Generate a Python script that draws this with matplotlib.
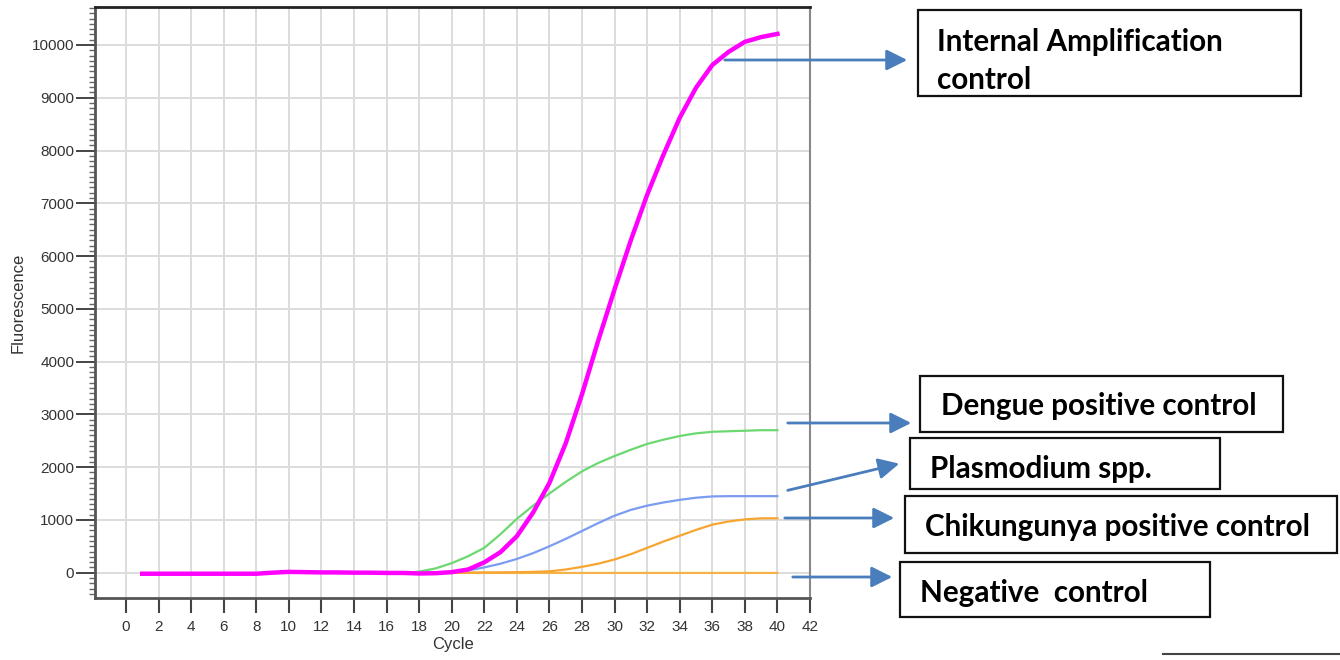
import matplotlib
matplotlib.use('Agg')
import matplotlib.pyplot as plt
from matplotlib.patches import Rectangle, FancyArrowPatch
from matplotlib.lines import Line2D
from matplotlib.ticker import MultipleLocator

W, H = 1340, 660

cycles = list(range(1, 41))
baseline = [-20, -20, -20, -20, -20, -20, -20, -20, 0, 15, 10, 5, 5, 0, 0, -5, -5]

iac = baseline + [-15, -10, 10, 60, 195, 390, 690, 1140, 1700, 2450, 3380, 4400, 5370,
                  6300, 7160, 7920, 8620, 9190, 9620, 9870, 10060, 10150, 10210]
dengue = baseline + [20, 80, 180, 310, 470, 730, 1020, 1270, 1500, 1720, 1920, 2080, 2210,
                     2330, 2440, 2520, 2590, 2640, 2670, 2680, 2690, 2700, 2700]
plasmodium = baseline + [-5, -5, 5, 40, 100, 170, 260, 370, 500, 640, 790, 940, 1080,
                         1190, 1270, 1330, 1380, 1420, 1445, 1450, 1450, 1450, 1450]
chik = baseline + [-5, -5, 0, 0, 5, 5, 10, 15, 25, 60, 110, 170, 250,
                   350, 470, 590, 700, 810, 910, 970, 1010, 1030, 1030]
negative = baseline + [-5] * 23

x_ticks = list(range(0, 43, 2))
y_ticks = list(range(0, 10001, 1000))

labels = ['Internal Amplification\ncontrol', 'Dengue positive control', 'Plasmodium spp.',
          'Chikungunya positive control', 'Negative  control']


def px(x, y):
    return x / W, 1 - y / H


fig = plt.figure(figsize=(13.4, 6.6), dpi=100)
ax = fig.add_axes([95 / W, 1 - 598 / H, 715 / W, 591 / H])

ax.plot(cycles, negative, color='#f5b24a', lw=1.6, zorder=3)
ax.plot(cycles, chik, color='#f7a531', lw=1.6, zorder=3)
ax.plot(cycles, plasmodium, color='#7b9cf0', lw=1.6, zorder=3)
ax.plot(cycles, dengue, color='#6cd870', lw=1.6, zorder=3)
ax.plot(cycles, iac, color='#ff00ff', lw=3.2, zorder=4)

ax.set_xlim(-1.9, 42)
ax.set_ylim(-480, 10720)
ax.set_xticks(x_ticks)
ax.set_yticks(y_ticks)
ax.yaxis.set_minor_locator(MultipleLocator(100))
ax.grid(True, color='#dcdcdc', lw=1.4, zorder=0)
ax.tick_params(axis='x', direction='out', length=11, width=1.5, pad=5, color='#444',
               labelsize=11, labelcolor='#333')
ax.tick_params(axis='y', which='major', direction='out', length=14, width=1.4, pad=1,
               color='#444', labelsize=11, labelcolor='#333')
ax.tick_params(axis='y', which='minor', direction='out', length=4, width=1.0, color='#666')
for s in ['left', 'bottom']:
    ax.spines[s].set_color('#555')
    ax.spines[s].set_linewidth(2)
ax.spines['top'].set_color('#222')
ax.spines['top'].set_linewidth(2)
ax.spines['right'].set_color('#888')
ax.spines['right'].set_linewidth(1.5)
ax.set_xlabel('Cycle', fontsize=12, color='#333', labelpad=2)
ax.set_ylabel('Fluorescence', fontsize=12, color='#333', labelpad=4)
for t in ax.get_xticklabels() + ax.get_yticklabels():
    t.set_family('Liberation Sans')
ax.xaxis.label.set_family('Liberation Sans')
ax.yaxis.label.set_family('Liberation Sans')

# annotation boxes (pixel coords of the picture)
boxes = [(918, 10, 1301, 96), (920, 376, 1283, 432), (910, 438, 1220, 489),
         (905, 496, 1337, 553), (900, 562, 1210, 617)]
text_pos = [(937, 61), (941, 406), (930, 469), (925, 527), (920, 593)]
arrows = [((722, 60), (910, 60)), ((785, 423), (914, 423)), ((785, 491), (902, 463)),
          ((782, 518), (897, 518)), ((790, 577), (895, 577))]

for (x0, y0, x1, y1), (tx, ty), lab, (a, b) in zip(boxes, text_pos, labels, arrows):
    fx, fy = px(x0, y1)
    fig.add_artist(Rectangle((fx, fy), (x1 - x0) / W, (y1 - y0) / H, transform=fig.transFigure,
                             fill=False, ec='#111', lw=1.6))
    fig.text(*px(tx, ty), lab, fontsize=21.3, fontweight='bold', family='Lato', va='center',
             ha='left', linespacing=1.45, color='black')
    fig.add_artist(FancyArrowPatch(px(*a), px(*b), transform=fig.transFigure,
                                   arrowstyle='-|>,head_length=0.9,head_width=0.45',
                                   mutation_scale=14, color='#4a7dbb', lw=2))

# fragment of a neighbouring figure at the bottom edge
fig.add_artist(Line2D([1163 / W, 1], [1 - 654 / H, 1 - 654 / H], transform=fig.transFigure,
                      color='#444', lw=1.5))

fig.savefig('out.png', dpi=100)
